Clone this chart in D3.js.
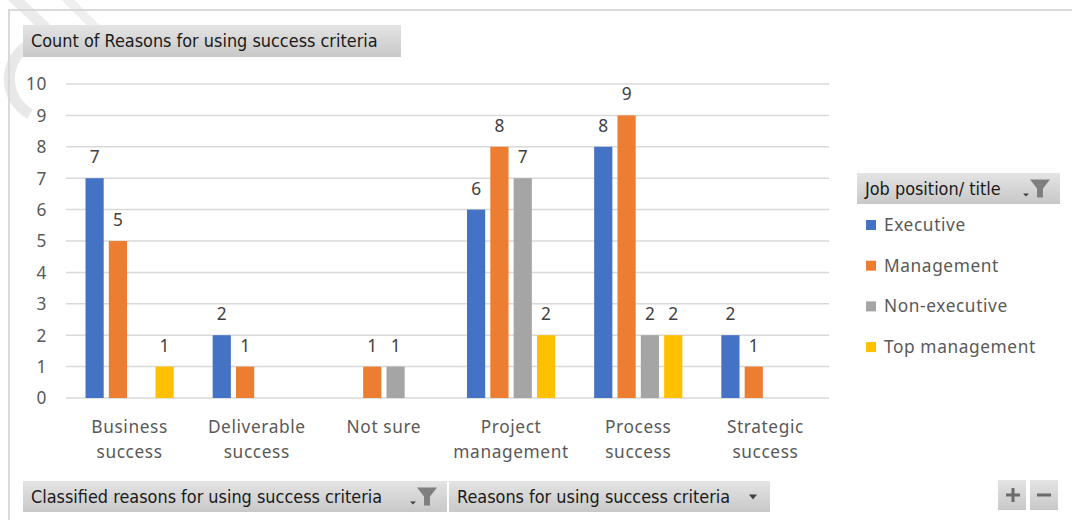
<!DOCTYPE html>
<html>
<head>
<meta charset="utf-8">
<script src="https://cdn.jsdelivr.net/npm/d3@7/dist/d3.min.js"></script>
<style>
  html, body { margin: 0; padding: 0; background: #fff; }
  svg { display: block; }
</style>
</head>
<body>
<svg id="chart" width="1072" height="520"></svg>
<script>
// Categories and series
const categories = [
  ["Business", "success"],
  ["Deliverable", "success"],
  ["Not sure"],
  ["Project", "management"],
  ["Process", "success"],
  ["Strategic", "success"]
];
const seriesNames = ["Executive", "Management", "Non-executive", "Top management"];
const executive    = [7, 2, null, 6, 8, 2];
const management   = [5, 1, 1, 8, 9, 1];
const nonExecutive = [null, null, 1, 7, 2, null];
const topManagement = [1, null, null, 2, 2, null];
const seriesColors = ["#4472C4", "#ED7D31", "#A5A5A5", "#FFC000"];
const yTicks = [0, 1, 2, 3, 4, 5, 6, 7, 8, 9, 10];

const seriesValues = [executive, management, nonExecutive, topManagement];
const catKeys = categories.map(c => c.join(" "));

const svg = d3.select("#chart");
const labelFont = "'Noto Sans', 'Open Sans', sans-serif";
const labelSize = 17.3;
const labelSpacing = "0.6px";
const buttonFont = "'Liberation Sans Narrow', 'DejaVu Sans Condensed', sans-serif";

// Button gradient
const defs = svg.append("defs");
const grad = defs.append("linearGradient").attr("id", "btnGrad")
  .attr("x1", 0).attr("y1", 0).attr("x2", 0).attr("y2", 1);
grad.append("stop").attr("offset", "0%").attr("stop-color", "#e4e4e4");
grad.append("stop").attr("offset", "100%").attr("stop-color", "#c8c8c8");

// Faint mark in the upper-left corner
svg.append("path")
  .attr("d", "M 30 44 A 40 40 0 0 0 30 114")
  .attr("fill", "none").attr("stroke", "#e8e8e8").attr("stroke-width", 11);
svg.append("path")
  .attr("d", "M 12 -4 L 50 32")
  .attr("fill", "none").attr("stroke", "#ebebeb").attr("stroke-width", 11);
svg.append("path")
  .attr("d", "M 64 -4 L 102 34")
  .attr("fill", "none").attr("stroke", "#efefef").attr("stroke-width", 9);

// Chart frame
svg.append("path")
  .attr("d", "M 9 520 L 9 10 L 1072 10")
  .attr("fill", "none").attr("stroke", "#d9d9d9").attr("stroke-width", 2);

// Scales
const x0 = d3.scaleBand().domain(catKeys).range([66, 829]).padding(0);
const x1 = d3.scaleBand().domain(seriesNames)
  .range([19.5, x0.bandwidth() - 19.5]).paddingInner(0.22).paddingOuter(0);
const y = d3.scaleLinear().domain([0, 10]).range([398, 84]);

// Gridlines
const grid = svg.append("g");
grid.selectAll("line").data(yTicks).join("line")
  .attr("x1", 66).attr("x2", 829)
  .attr("y1", d => y(d)).attr("y2", d => y(d))
  .attr("stroke", "#d9d9d9").attr("stroke-width", 1.5);

// Y axis labels
const yAxis = d3.axisLeft(y).tickValues(yTicks).tickSize(0).tickPadding(0);
const yg = svg.append("g").attr("transform", "translate(47,0)").call(yAxis);
yg.select(".domain").remove();
yg.selectAll("text")
  .attr("font-family", labelFont).attr("font-size", labelSize)
  .attr("letter-spacing", labelSpacing)
  .attr("fill", "#595959").attr("dy", "0.34em");

// Bars
const groups = svg.append("g").selectAll("g").data(catKeys).join("g")
  .attr("transform", d => `translate(${x0(d)},0)`);
groups.each(function(cat, ci) {
  const g = d3.select(this);
  const rows = seriesNames.map((s, si) => ({ s, si, v: seriesValues[si][ci] }))
    .filter(r => r.v != null);
  g.selectAll("rect").data(rows).join("rect")
    .attr("x", r => x1(r.s)).attr("width", x1.bandwidth())
    .attr("y", r => y(r.v)).attr("height", r => y(0) - y(r.v))
    .attr("fill", r => seriesColors[r.si]);
  g.selectAll("text").data(rows).join("text")
    .attr("x", r => x1(r.s) + x1.bandwidth() / 2)
    .attr("y", r => y(r.v) - 15)
    .attr("text-anchor", "middle")
    .attr("font-family", labelFont).attr("font-size", labelSize)
    .attr("fill", "#404040")
    .text(r => r.v);
});

// Category labels
const xl = svg.append("g");
categories.forEach((lines, i) => {
  const cx = x0(catKeys[i]) + x0.bandwidth() / 2;
  const t = xl.append("text")
    .attr("text-anchor", "middle")
    .attr("font-family", labelFont).attr("font-size", labelSize)
    .attr("letter-spacing", labelSpacing)
    .attr("fill", "#595959");
  lines.forEach((ln, li) => {
    t.append("tspan").attr("x", cx).attr("y", 433 + li * 25).text(ln);
  });
});

// Field button helper
function funnel(g, x, yy) {
  g.append("path")
    .attr("d", `M ${x} ${yy} L ${x + 20} ${yy} L ${x + 13} ${yy + 9} L ${x + 13} ${yy + 18} L ${x + 7} ${yy + 18} L ${x + 7} ${yy + 9} Z`)
    .attr("fill", "#7f7f7f");
  g.append("path")
    .attr("d", `M ${x - 7} ${yy + 14} L ${x - 1} ${yy + 14} L ${x - 4} ${yy + 17} Z`)
    .attr("fill", "#404040");
}
function button(x, yy, w, h, label, icon) {
  const g = svg.append("g");
  g.append("rect").attr("x", x).attr("y", yy).attr("width", w).attr("height", h)
    .attr("fill", "url(#btnGrad)");
  g.append("text").attr("x", x + 8).attr("y", yy + h / 2 + 6)
    .attr("font-family", buttonFont).attr("font-size", 17.9)
    .attr("fill", "#1a1a1a").text(label);
  if (icon === "funnel") funnel(g, x + w - 30, yy + h / 2 - 9);
  if (icon === "arrow") {
    g.append("path")
      .attr("d", `M ${x + w - 21} ${yy + h / 2 - 2} L ${x + w - 13} ${yy + h / 2 - 2} L ${x + w - 17} ${yy + h / 2 + 3} Z`)
      .attr("fill", "#404040");
  }
  return g;
}

button(23, 25, 378, 32, "Count of Reasons for using success criteria", null);
button(857, 173, 203, 31, "Job position/ title", "funnel");
button(23, 481, 424, 31, "Classified reasons for using success criteria", "funnel");
button(449, 481, 321, 31, "Reasons for using success criteria", "arrow");

// Zoom buttons
const zb = svg.append("g");
[998, 1030].forEach(bx => {
  zb.append("rect").attr("x", bx).attr("y", 480).attr("width", 28).attr("height", 30)
    .attr("fill", "url(#btnGrad)");
});
zb.append("path").attr("d", "M 1006 495 L 1020 495 M 1013 488 L 1013 502")
  .attr("stroke", "#6b6b6b").attr("stroke-width", 3);
zb.append("path").attr("d", "M 1037 495 L 1051 495")
  .attr("stroke", "#6b6b6b").attr("stroke-width", 3);

// Legend
const legend = svg.append("g");
seriesNames.forEach((name, i) => {
  const ly = 225 + i * 40.7;
  legend.append("rect").attr("x", 866).attr("y", ly - 5).attr("width", 10).attr("height", 10)
    .attr("fill", seriesColors[i]);
  legend.append("text").attr("x", 884).attr("y", ly + 6)
    .attr("font-family", labelFont).attr("font-size", labelSize)
    .attr("letter-spacing", labelSpacing)
    .attr("fill", "#595959").text(name);
});
</script>
</body>
</html>
